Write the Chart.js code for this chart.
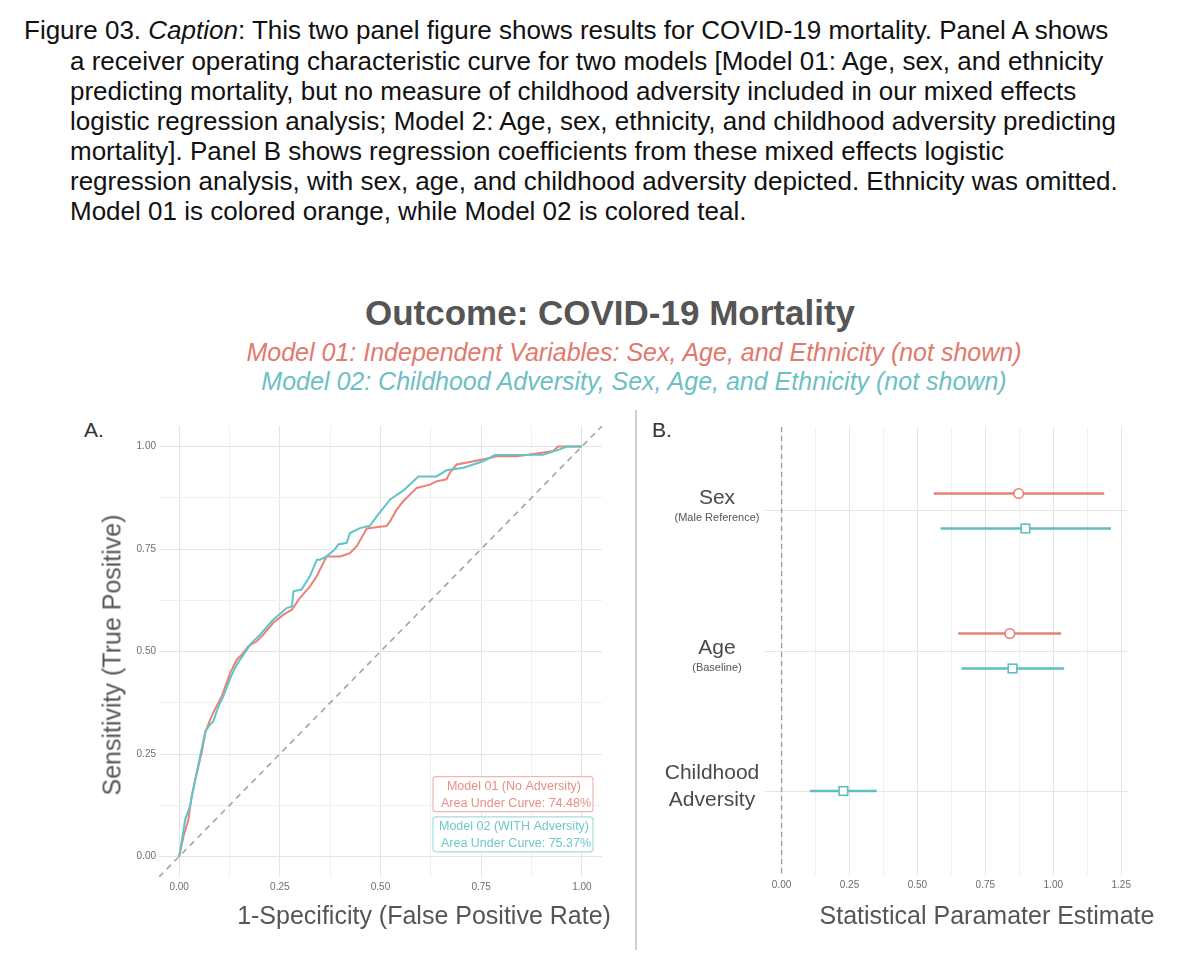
<!DOCTYPE html>
<html><head><meta charset="utf-8">
<script src="https://cdn.jsdelivr.net/npm/chart.js@4"></script>
<style>
html,body{margin:0;padding:0;background:#fff;}
body{width:1200px;height:970px;position:relative;overflow:hidden;font-family:'Liberation Sans',Arial,Helvetica,sans-serif;}
.cap{position:absolute;font-size:26px;color:#111;white-space:nowrap;line-height:30px;}
.abs{position:absolute;white-space:nowrap;}
#title{left:110px;width:1000px;top:294px;text-align:center;font-weight:bold;font-size:35px;line-height:38px;color:#555;}
.sub{left:134px;width:1000px;text-align:center;font-style:italic;font-size:25px;line-height:28px;}
.axt{font-size:25px;color:#555;}
.pl{font-size:21px;color:#333;}
#divider{position:absolute;left:635px;top:410px;width:2px;height:540px;background:#CFCFCF;}
#wa{position:absolute;left:60px;top:400px;width:560px;height:510px;}
#wb{position:absolute;left:640px;top:400px;width:540px;height:510px;}
</style></head>
<body>
<div class="cap" style="left:24px;top:15px;">Figure 03. <i>Caption</i>: This two panel figure shows results for COVID-19 mortality. Panel A shows</div>
<div class="cap" style="left:70px;top:46px;">a receiver operating characteristic curve for two models [Model 01: Age, sex, and ethnicity</div>
<div class="cap" style="left:70px;top:76px;">predicting mortality, but no measure of childhood adversity included in our mixed effects</div>
<div class="cap" style="left:70px;top:106px;">logistic regression analysis; Model 2: Age, sex, ethnicity, and childhood adversity predicting</div>
<div class="cap" style="left:70px;top:136px;">mortality]. Panel B shows regression coefficients from these mixed effects logistic</div>
<div class="cap" style="left:70px;top:166px;">regression analysis, with sex, age, and childhood adversity depicted. Ethnicity was omitted.</div>
<div class="cap" style="left:70px;top:196px;">Model 01 is colored orange, while Model 02 is colored teal.</div>

<div id="title" class="abs">Outcome: COVID-19 Mortality</div>
<div class="abs sub" style="top:338px;color:#E3786C;">Model 01: Independent Variables: Sex, Age, and Ethnicity (not shown)</div>
<div class="abs sub" style="top:367px;color:#6CC0C5;">Model 02: Childhood Adversity, Sex, Age, and Ethnicity (not shown)</div>

<div class="abs pl" style="left:84px;top:418px;">A.</div>
<div class="abs pl" style="left:652px;top:418px;">B.</div>
<div id="divider"></div>

<div id="wa"><canvas id="ca" width="560" height="510"></canvas></div>
<div id="wb"><canvas id="cb" width="540" height="510"></canvas></div>

<div class="abs axt" style="left:112px;top:655px;transform:translate(-50%,-50%) rotate(-90deg);">Sensitivity (True Positive)</div>
<div class="abs axt" style="left:424px;top:915px;transform:translate(-50%,-50%);">1-Specificity (False Positive Rate)</div>
<div class="abs axt" style="left:987px;top:915px;transform:translate(-50%,-50%);">Statistical Paramater Estimate</div>

<script>
// ---------- Panel A data: ROC curves ----------
const rocFpr01 = [0,0.011,0.023,0.031,0.044,0.056,0.065,0.077,0.089,0.106,0.127,0.143,0.156,0.172,0.193,0.209,0.234,0.259,0.280,0.300,0.325,0.342,0.362,0.366,0.400,0.424,0.441,0.466,0.499,0.515,0.524,0.540,0.557,0.590,0.623,0.639,0.664,0.672,0.689,0.722,0.772,0.788,0.838,0.888,0.929,0.941,1.0];
const rocTpr01 = [0,0.050,0.090,0.147,0.204,0.253,0.302,0.334,0.359,0.391,0.448,0.480,0.493,0.513,0.525,0.541,0.570,0.590,0.602,0.631,0.659,0.684,0.724,0.732,0.732,0.740,0.757,0.800,0.804,0.806,0.818,0.846,0.867,0.899,0.907,0.915,0.920,0.936,0.956,0.962,0.972,0.976,0.976,0.983,0.989,1.0,1.0];
const rocFpr02 = [0,0.007,0.015,0.027,0.040,0.052,0.065,0.077,0.085,0.098,0.110,0.127,0.143,0.160,0.180,0.201,0.234,0.267,0.280,0.284,0.304,0.325,0.342,0.350,0.366,0.387,0.395,0.416,0.424,0.449,0.474,0.491,0.524,0.557,0.594,0.639,0.664,0.706,0.755,0.784,0.904,0.945,0.962,1.0];
const rocTpr02 = [0,0.041,0.090,0.123,0.188,0.244,0.305,0.322,0.330,0.367,0.391,0.435,0.468,0.493,0.521,0.541,0.578,0.606,0.610,0.647,0.651,0.684,0.724,0.724,0.732,0.749,0.761,0.765,0.789,0.801,0.807,0.830,0.871,0.893,0.927,0.927,0.942,0.948,0.964,0.979,0.980,0.993,1.0,1.0];
const aucText01 = ['Model 01 (No Adversity)', 'Area Under Curve: 74.48%'];
const aucText02 = ['Model 02 (WITH Adversity)', 'Area Under Curve: 75.37%'];
const rocMajorTicks = [0, 0.25, 0.5, 0.75, 1];
const rocTickLabels = ['0.00', '0.25', '0.50', '0.75', '1.00'];
const rocMinorTicks = [0.125, 0.375, 0.625, 0.875];
const rocRange = [-0.05, 1.05];

// ---------- Panel B data: coefficients ----------
const terms = ['Sex', 'Age', 'Childhood Adversity'];
const termLines = [['Sex'], ['Age'], ['Childhood', 'Adversity']];
const termSub = ['(Male Reference)', '(Baseline)', ''];
const termPos = [1, 2, 3];
const m1Est = [0.8725, 0.84, null];
const m1Lo  = [0.56, 0.65, null];
const m1Hi  = [1.1875, 1.029, null];
const m2Est = [0.8975, 0.85, 0.2275];
const m2Lo  = [0.585, 0.6625, 0.104];
const m2Hi  = [1.2125, 1.04, 0.35];
const coefMajorTicks = [0, 0.25, 0.5, 0.75, 1, 1.25];
const coefTickLabels = ['0.00', '0.25', '0.50', '0.75', '1.00', '1.25'];
const coefMinorTicks = [0.125, 0.375, 0.625, 0.875, 1.125];
const coefRange = [-0.061, 1.275];
const termRange = [0.4, 3.6];
const refValue = 0;

// ---------- styles ----------
const RED = '#EC8076', TEAL = '#62C3C8';
const RED_BAR = '#E98074', TEAL_BAR = '#5FBEC3';
const tickFont = {family: "'Liberation Sans Narrow','Liberation Sans',Arial,sans-serif", size: 10};
const tickColor = '#6E6E6E';
const majorGrid = '#E4E4E4', minorGrid = '#F0F0F0';
const labelStyle = {cx: 0.829, cy: [0.152, 0.054], w: 160, h: 35};
const termLabelX = [77, 77, 72];          // px from canvas left, centre of label
const termOffsets = [[-12.5, 7], [-2.5, 16.5], [-18, 9]];

function gridColor(majors){
  return ctx => (ctx.tick && majors.some(v => Math.abs(v - ctx.tick.value) < 1e-9)) ? majorGrid : minorGrid;
}
function tickCb(majors, labels){
  return function(value){
    const i = majors.findIndex(v => Math.abs(v - value) < 1e-9);
    return i >= 0 ? labels[i] : '';
  };
}
function setTicks(values){
  return scale => { scale.ticks = values.slice().sort((a,b)=>a-b).map(v => ({value: v})); };
}

function roundRectPath(ctx, x, y, w, h, r){
  ctx.beginPath();
  ctx.moveTo(x + r, y);
  ctx.lineTo(x + w - r, y); ctx.arcTo(x + w, y, x + w, y + r, r);
  ctx.lineTo(x + w, y + h - r); ctx.arcTo(x + w, y + h, x + w - r, y + h, r);
  ctx.lineTo(x + r, y + h); ctx.arcTo(x, y + h, x, y + h - r, r);
  ctx.lineTo(x, y + r); ctx.arcTo(x, y, x + r, y, r);
  ctx.closePath();
}

const aucPlugin = {
  id: 'aucLabels',
  afterDatasetsDraw(chart){
    const {ctx, scales: {x, y}} = chart;
    const sets = [[aucText01, '#E98E86', '#F2B7B1'], [aucText02, '#6FC7CC', '#A6DCDF']];
    sets.forEach((s, i) => {
      const cx = x.getPixelForValue(labelStyle.cx);
      const cy = y.getPixelForValue(labelStyle.cy[i]);
      ctx.save();
      roundRectPath(ctx, cx - labelStyle.w/2, cy - labelStyle.h/2, labelStyle.w, labelStyle.h, 3);
      ctx.fillStyle = '#fff'; ctx.fill();
      ctx.strokeStyle = s[2]; ctx.lineWidth = 1.2; ctx.stroke();
      ctx.fillStyle = s[1];
      ctx.font = "12.5px 'Liberation Sans', Arial, sans-serif";
      ctx.textAlign = 'center'; ctx.textBaseline = 'middle';
      ctx.fillText(s[0][0], cx + 1, cy - 8);
      ctx.fillText(s[0][1], cx + 3, cy + 9);
      ctx.restore();
    });
  }
};

const toXY = (xs, ys) => xs.map((v, i) => ({x: v, y: ys[i]}));

new Chart(document.getElementById('ca'), {
  type: 'line',
  data: {
    datasets: [
      {label: 'diag', data: [{x: rocRange[0], y: rocRange[0]}, {x: rocRange[1], y: rocRange[1]}],
       borderColor: '#A3A3A3', borderWidth: 1.6, borderDash: [6, 5], pointRadius: 0, order: 3},
      {label: 'Model 01', data: toXY(rocFpr01, rocTpr01), borderColor: RED, borderWidth: 2,
       pointRadius: 0, tension: 0, order: 2},
      {label: 'Model 02', data: toXY(rocFpr02, rocTpr02), borderColor: TEAL, borderWidth: 2,
       pointRadius: 0, tension: 0, order: 1}
    ]
  },
  options: {
    responsive: false, animation: false, devicePixelRatio: 1,
    layout: {padding: {left: 0, top: 26, right: 18, bottom: 3}},
    plugins: {legend: {display: false}, tooltip: {enabled: false}},
    scales: {
      x: {type: 'linear', min: rocRange[0], max: rocRange[1],
          afterBuildTicks: setTicks(rocMajorTicks.concat(rocMinorTicks)),
          afterFit: s => { s.height = 30; },
          grid: {color: gridColor(rocMajorTicks), lineWidth: 1, drawTicks: false},
          border: {display: false},
          ticks: {callback: tickCb(rocMajorTicks, rocTickLabels), font: tickFont, color: tickColor,
                  padding: 4, autoSkip: false, maxRotation: 0}},
      y: {type: 'linear', min: rocRange[0], max: rocRange[1],
          afterBuildTicks: setTicks(rocMajorTicks.concat(rocMinorTicks)),
          afterFit: s => { s.width = 99; },
          grid: {color: gridColor(rocMajorTicks), lineWidth: 1, drawTicks: false},
          border: {display: false},
          ticks: {callback: tickCb(rocMajorTicks, rocTickLabels), font: tickFont, color: tickColor,
                  padding: 3, autoSkip: false}}
    }
  },
  plugins: [aucPlugin]
});

// ---------- Panel B ----------
const coefPlugin = {
  id: 'coefExtras',
  beforeDatasetsDraw(chart){
    const {ctx, chartArea, scales: {x}} = chart;
    const px = x.getPixelForValue(refValue);
    ctx.save();
    ctx.strokeStyle = '#9A9A9A'; ctx.lineWidth = 1.3; ctx.setLineDash([5, 4]);
    ctx.beginPath(); ctx.moveTo(px, chartArea.top); ctx.lineTo(px, chartArea.bottom); ctx.stroke();
    ctx.restore();
  },
  afterDatasetsDraw(chart){
    const {ctx, scales: {x, y}} = chart;
    const ests = [m1Est, m2Est];
    ests.forEach((est, di) => {
      const meta = chart.getDatasetMeta(di);
      meta.data.forEach((bar, j) => {
        if (est[j] == null) return;
        const px = x.getPixelForValue(est[j]);
        const py = bar.y;
        ctx.save();
        ctx.fillStyle = '#fff'; ctx.lineWidth = 1.6;
        if (di === 0){
          ctx.strokeStyle = RED_BAR;
          ctx.beginPath(); ctx.arc(px, py, 4.8, 0, Math.PI*2); ctx.fill(); ctx.stroke();
        } else {
          ctx.strokeStyle = TEAL_BAR;
          ctx.fillRect(px - 4.3, py - 4.3, 8.6, 8.6); ctx.strokeRect(px - 4.3, py - 4.3, 8.6, 8.6);
        }
        ctx.restore();
      });
    });
    // category labels
    termPos.forEach((pos, i) => {
      const py = y.getPixelForValue(pos);
      const cx = chart.chartArea.left - 125 + termLabelX[i];
      ctx.save();
      ctx.fillStyle = '#4A4A4A'; ctx.textAlign = 'center'; ctx.textBaseline = 'middle';
      ctx.font = "21px 'Liberation Sans', Arial, sans-serif";
      const lines = termLines[i];
      ctx.fillText(lines[0], cx, py + termOffsets[i][0]);
      if (lines.length > 1) ctx.fillText(lines[1], cx, py + termOffsets[i][1]);
      if (termSub[i]){
        ctx.font = "11px 'Liberation Sans', Arial, sans-serif";
        ctx.fillStyle = '#555';
        ctx.fillText(termSub[i], cx, py + termOffsets[i][1]);
      }
      ctx.restore();
    });
  }
};

const barData = (lo, hi) => termPos.map((p, i) => ({y: p, x: (lo[i] == null ? null : [lo[i], hi[i]])}));

new Chart(document.getElementById('cb'), {
  type: 'bar',
  data: {
    datasets: [
      {label: 'Model 01', data: barData(m1Lo, m1Hi), backgroundColor: RED_BAR, borderWidth: 0,
       maxBarThickness: 2.6, barPercentage: 1, categoryPercentage: 0.5, skipNull: true},
      {label: 'Model 02', data: barData(m2Lo, m2Hi), backgroundColor: TEAL_BAR, borderWidth: 0,
       maxBarThickness: 2.6, barPercentage: 1, categoryPercentage: 0.5, skipNull: true}
    ]
  },
  options: {
    indexAxis: 'y',
    responsive: false, animation: false, devicePixelRatio: 1,
    layout: {padding: {left: 0, top: 27, right: 52, bottom: 5}},
    plugins: {legend: {display: false}, tooltip: {enabled: false}},
    scales: {
      x: {type: 'linear', min: coefRange[0], max: coefRange[1],
          afterBuildTicks: setTicks(coefMajorTicks.concat(coefMinorTicks)),
          afterFit: s => { s.height = 30; },
          grid: {color: gridColor(coefMajorTicks), lineWidth: 1, drawTicks: false},
          border: {display: false},
          ticks: {callback: tickCb(coefMajorTicks, coefTickLabels), font: tickFont, color: tickColor,
                  padding: 4, autoSkip: false, maxRotation: 0}},
      y: {type: 'linear', min: termRange[0], max: termRange[1], reverse: true, offset: false,
          afterBuildTicks: setTicks(termPos),
          afterFit: s => { s.width = 125; },
          grid: {color: '#E6E6E6', lineWidth: 1, drawTicks: false, offset: false},
          border: {display: false},
          ticks: {display: false}}
    }
  },
  plugins: [coefPlugin]
});
</script>
</body></html>
